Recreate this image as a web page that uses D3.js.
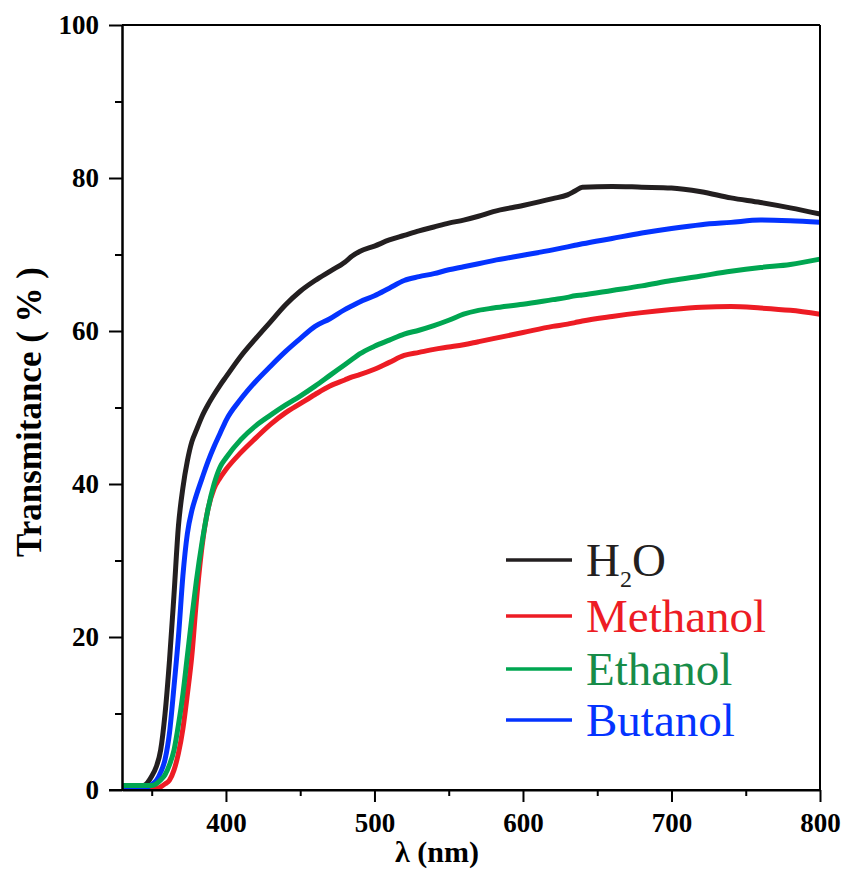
<!DOCTYPE html>
<html>
<head>
<meta charset="utf-8">
<script src="https://cdn.jsdelivr.net/npm/d3@7"></script>
<style>
  html, body { margin: 0; padding: 0; background: #fff; }
  svg { display: block; }
  text { font-family: "Liberation Serif", "Times New Roman", Times, serif; }
</style>
</head>
<body>
<svg id="chart" width="845" height="869"></svg>
<script>
// Wavelength grid (nm) shared by all spectra
const wavelengths = [330, 340, 345, 350, 353, 356, 359, 362, 365, 368, 371, 374, 377, 380, 384, 388, 392, 396, 400,
  410, 420, 430, 440, 450, 460, 470, 480, 485, 490, 500, 510, 520, 530, 540, 550, 560, 570, 580,
  600, 620, 630, 635, 640, 660, 680, 700, 720, 740, 760, 780, 800];

// Transmittance (%) of each film
const h2o = [0.4, 0.4, 0.6, 1.8, 3.0, 5.2, 10.0, 17.0, 25.5, 34.5, 39.5, 43.0, 45.5, 47.0, 48.9, 50.4, 51.7, 52.9, 54.0,
  56.7, 59.0, 61.2, 63.4, 65.2, 66.6, 67.8, 69.0, 69.8, 70.4, 71.1, 71.9, 72.5, 73.1, 73.6, 74.1, 74.5, 75.0, 75.6,
  76.4, 77.3, 77.8, 78.3, 78.8, 78.9, 78.8, 78.7, 78.2, 77.4, 76.8, 76.1, 75.3];
const methanol = [0.2, 0.2, 0.2, 0.2, 0.2, 0.4, 0.8, 1.3, 2.6, 4.8, 8.0, 12.5, 17.5, 24.5, 32.0, 36.8, 39.4, 40.8, 41.9,
  44.1, 46.0, 47.8, 49.3, 50.5, 51.7, 52.8, 53.6, 54.0, 54.3, 55.0, 55.9, 56.8, 57.2, 57.6, 57.9, 58.2, 58.6, 59.0,
  59.8, 60.6, 60.9, 61.1, 61.3, 61.9, 62.4, 62.8, 63.1, 63.2, 63.0, 62.7, 62.2];
const ethanol = [0.6, 0.6, 0.6, 0.6, 0.8, 1.3, 2.0, 3.3, 5.2, 8.5, 12.5, 17.5, 22.5, 27.2, 32.5, 36.8, 40.0, 42.2, 43.4,
  45.8, 47.6, 49.0, 50.3, 51.5, 52.8, 54.2, 55.6, 56.3, 57.0, 58.0, 58.8, 59.6, 60.1, 60.7, 61.4, 62.2, 62.7, 63.0,
  63.5, 64.1, 64.4, 64.6, 64.7, 65.3, 65.9, 66.6, 67.2, 67.8, 68.3, 68.7, 69.4];
const butanol = [0.3, 0.3, 0.3, 0.7, 1.2, 2.3, 4.0, 7.5, 13.5, 20.0, 28.0, 33.5, 36.5, 38.5, 40.8, 43.0, 44.9, 46.6, 48.3,
  51.1, 53.4, 55.4, 57.3, 59.0, 60.6, 61.6, 62.8, 63.3, 63.8, 64.6, 65.6, 66.6, 67.1, 67.5, 68.0, 68.4, 68.8, 69.2,
  69.9, 70.6, 71.0, 71.2, 71.4, 72.1, 72.8, 73.4, 73.9, 74.2, 74.5, 74.4, 74.2];

const seriesNames = ["H2O", "Methanol", "Ethanol", "Butanol"];
const lineColors = ["#231f20", "#ed1c24", "#00a651", "#0433ff"];
const textColors = ["#231f20", "#ed1c24", "#178c48", "#0433ff"];

const xMajorTicks = [400, 500, 600, 700, 800];
const xMinorTicks = [350, 450, 550, 650, 750];
const yMajorTicks = [0, 20, 40, 60, 80, 100];
const yMinorTicks = [10, 30, 50, 70, 90];

const series = [h2o, methanol, ethanol, butanol].map((vals, i) => ({
  name: seriesNames[i],
  color: lineColors[i],
  textColor: textColors[i],
  points: wavelengths.map((w, j) => [w, vals[j]])
}));

const margin = { top: 25, right: 25, bottom: 79, left: 122 };
const W = 845, H = 869;
const iw = W - margin.left - margin.right;
const ih = H - margin.top - margin.bottom;

const svg = d3.select("#chart");
const g = svg.append("g").attr("transform", `translate(${margin.left},${margin.top})`);

const x = d3.scaleLinear().domain([330, 800]).range([0, iw]);
const y = d3.scaleLinear().domain([0, 100]).range([ih, 0]);

// spectra (drawing order keeps green on top)
const line = d3.line().x(d => x(d[0])).y(d => y(d[1])).curve(d3.curveMonotoneX);
const drawOrder = [1, 0, 3, 2];
g.append("g").selectAll("path")
  .data(drawOrder.map(i => series[i]))
  .join("path")
  .attr("d", d => line(d.points))
  .attr("fill", "none")
  .attr("stroke", d => d.color)
  .attr("stroke-width", 5)
  .attr("stroke-linejoin", "round");

// frame: top and right lines
g.append("line").attr("x1", 0).attr("x2", iw).attr("y1", 0).attr("y2", 0)
  .attr("stroke", "#000").attr("stroke-width", 2);
g.append("line").attr("x1", iw).attr("x2", iw).attr("y1", 0).attr("y2", ih)
  .attr("stroke", "#000").attr("stroke-width", 2);

// axes
const tickFont = "bold 27px 'Liberation Serif', 'Times New Roman', serif";

const xAxis = g.append("g").attr("transform", `translate(0,${ih})`)
  .call(d3.axisBottom(x).tickValues(xMajorTicks).tickSize(12).tickPadding(11).tickSizeOuter(0).tickFormat(d3.format("d")));
const xMinor = g.append("g").attr("transform", `translate(0,${ih})`)
  .call(d3.axisBottom(x).tickValues(xMinorTicks).tickSize(6).tickSizeOuter(0).tickFormat(""));

const yAxis = g.append("g")
  .call(d3.axisLeft(y).tickValues(yMajorTicks).tickSize(13).tickPadding(10).tickSizeOuter(0).tickFormat(d3.format("d")));
const yMinor = g.append("g")
  .call(d3.axisLeft(y).tickValues(yMinorTicks).tickSize(7).tickSizeOuter(0).tickFormat(""));

[xAxis, xMinor, yAxis, yMinor].forEach(a => {
  a.select(".domain").attr("stroke", "#000").attr("stroke-width", 2);
  a.selectAll(".tick line").attr("stroke", "#000").attr("stroke-width", 2);
  a.selectAll(".tick text").attr("fill", "#000").style("font", tickFont);
});

// extend x axis line to meet the left tick
xAxis.select(".domain").attr("d", `M-13,0H${iw}`);

// axis titles
svg.append("text")
  .attr("x", 437)
  .attr("y", 862)
  .attr("text-anchor", "middle")
  .style("font", "bold 30px 'Liberation Serif', 'Times New Roman', serif")
  .text("λ (nm)");

svg.append("text")
  .attr("transform", `translate(41,412) rotate(-90)`)
  .attr("text-anchor", "middle")
  .style("font", "bold 35px 'Liberation Serif', 'Times New Roman', serif")
  .text("Transmitance ( % )");

// legend
const legendX = 506, legendTextX = 586;
const baselines = [576, 632, 685, 736];
const legend = svg.append("g");
series.forEach((s, i) => {
  const by = baselines[i];
  legend.append("line")
    .attr("x1", legendX).attr("x2", legendX + 66)
    .attr("y1", by - 16).attr("y2", by - 16)
    .attr("stroke", s.color).attr("stroke-width", 3.5);
  const t = legend.append("text")
    .attr("x", legendTextX).attr("y", by)
    .attr("fill", s.textColor)
    .style("font-size", "47px");
  if (s.name === "H2O") {
    t.append("tspan").text("H");
    t.append("tspan").attr("dy", 11).style("font-size", "24px").text("2");
    t.append("tspan").attr("dy", -11).text("O");
  } else {
    t.text(s.name);
  }
});
</script>
</body>
</html>
